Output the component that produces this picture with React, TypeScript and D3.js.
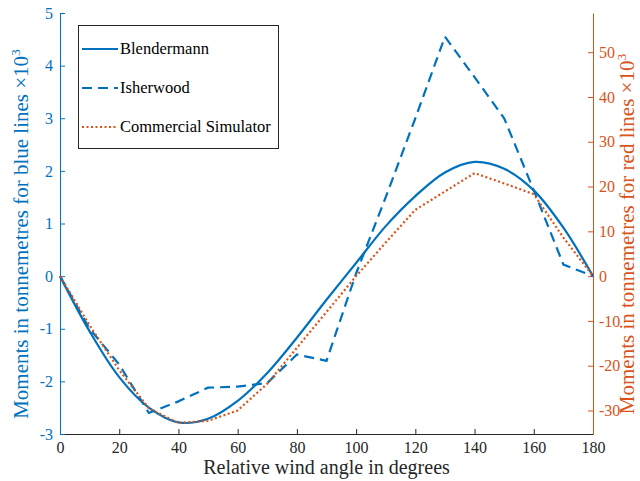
import React, { useEffect, useRef } from "react";
import * as d3 from "d3";

// wind angle in degrees
const angles = [0, 10, 20, 30, 40, 50, 60, 70, 80, 90, 100, 110, 120, 130, 140, 150, 160, 170, 180];

// left axis (x10^3 tonne-metres)
const blendermann = [0, -1.05, -1.92, -2.5, -2.78, -2.71, -2.37, -1.84, -1.17, -0.45, 0.25, 0.95, 1.52, 1.97, 2.17, 2.04, 1.63, 0.92, 0];
const isherwood = [0, -1.0, -1.68, -2.6, -2.38, -2.12, -2.1, -2.03, -1.49, -1.61, 0.05, 1.5, 3.0, 4.55, 3.78, 3.0, 1.63, 0.22, 0];

// right axis (x10^3 tonne-metres)
const commercial = [0, -11, -21, -29.5, -32.8, -32.3, -30, -24, -16, -8, 0, 7.5, 14.8, 18.9, 23, 20.7, 18.3, 8.6, 0];

const xTicks = [0, 20, 40, 60, 80, 100, 120, 140, 160, 180];
const leftTicks = [-3, -2, -1, 0, 1, 2, 3, 4, 5];
const rightTicks = [-30, -20, -10, 0, 10, 20, 30, 40, 50];

const legendNames = ["Blendermann", "Isherwood", "Commercial Simulator"];

const BLUE = "#0072BD";
const RED = "#D95319";
const DARK = "#262626";
const FONT = "'Liberation Serif', 'Times New Roman', serif";

export default function App() {
  const ref = useRef<SVGSVGElement | null>(null);

  useEffect(() => {
    const svg = d3.select(ref.current);
    svg.selectAll("*").remove();

    const left = 60, right = 593, top = 13, bottom = 434;
    const fmt = (d: d3.NumberValue) => String(d);

    // scales
    const xScale = d3.scaleLinear().domain([0, 180]).range([left, right]);
    const yLeft = d3.scaleLinear().domain([-3, 5]).range([bottom, top]);
    const yRight = d3.scaleLinear().domain([-35.25, 58.75]).range([bottom, top]);

    // bottom axis
    const xAxis = d3.axisBottom(xScale).tickValues(xTicks).tickFormat(fmt).tickSizeInner(-5).tickSizeOuter(0).tickPadding(8);
    const gx = svg.append("g").attr("transform", `translate(0,${bottom})`).call(xAxis);
    gx.select(".domain").attr("stroke", DARK);
    gx.selectAll(".tick line").attr("stroke", DARK);
    gx.selectAll("text").attr("fill", DARK).attr("font-family", FONT).attr("font-size", 16);

    // left axis
    const yAxisL = d3.axisLeft(yLeft).tickValues(leftTicks).tickFormat(fmt).tickSizeInner(-5).tickSizeOuter(0).tickPadding(7);
    const gl = svg.append("g").attr("transform", `translate(${left},0)`).call(yAxisL);
    gl.select(".domain").attr("stroke", BLUE);
    gl.selectAll(".tick line").attr("stroke", BLUE);
    gl.selectAll("text").attr("fill", BLUE).attr("font-family", FONT).attr("font-size", 16);

    // right axis
    const yAxisR = d3.axisRight(yRight).tickValues(rightTicks).tickFormat(fmt).tickSizeInner(-5).tickSizeOuter(0).tickPadding(6);
    const gr = svg.append("g").attr("transform", `translate(${right},0)`).call(yAxisR);
    gr.select(".domain").attr("stroke", RED);
    gr.selectAll(".tick line").attr("stroke", RED);
    gr.selectAll("text").attr("fill", RED).attr("font-family", FONT).attr("font-size", 16);

    // lines
    const lineLeft = (vals: number[], curve: d3.CurveFactory) =>
      d3.line<number>().x((_, i) => xScale(angles[i])).y((d) => yLeft(d)).curve(curve)(vals);
    const lineRight = d3.line<number>().x((_, i) => xScale(angles[i])).y((d) => yRight(d));

    svg.append("path")
      .attr("d", lineLeft(blendermann, d3.curveCatmullRom.alpha(0.5)))
      .attr("fill", "none").attr("stroke", BLUE).attr("stroke-width", 2.2);

    svg.append("path")
      .attr("d", lineLeft(isherwood, d3.curveLinear))
      .attr("fill", "none").attr("stroke", BLUE).attr("stroke-width", 2.2)
      .attr("stroke-dasharray", "10,6");

    svg.append("path")
      .attr("d", lineRight(commercial))
      .attr("fill", "none").attr("stroke", RED).attr("stroke-width", 2.2)
      .attr("stroke-dasharray", "2,2.5");

    // axis labels
    svg.append("text")
      .attr("x", (left + right) / 2).attr("y", 474)
      .attr("text-anchor", "middle")
      .attr("font-family", FONT).attr("font-size", 20).attr("fill", DARK)
      .text("Relative wind angle in degrees");

    const yl = svg.append("text")
      .attr("transform", `translate(28,234) rotate(-90)`)
      .attr("text-anchor", "middle")
      .attr("font-family", FONT).attr("font-size", 21).attr("fill", BLUE);
    yl.append("tspan").text("Moments in tonnemetres for blue lines \u00d710");
    yl.append("tspan").attr("font-size", 13.5).attr("dy", -8).text("3");

    const yr = svg.append("text")
      .attr("transform", `translate(634,234) rotate(-90)`)
      .attr("text-anchor", "middle")
      .attr("font-family", FONT).attr("font-size", 21).attr("fill", RED);
    yr.append("tspan").text("Moments in tonnemetres for red lines \u00d710");
    yr.append("tspan").attr("font-size", 13.5).attr("dy", -8).text("3");

    // legend
    const lg = svg.append("g");
    lg.append("rect")
      .attr("x", 78.5).attr("y", 25.5).attr("width", 200).attr("height", 123)
      .attr("fill", "white").attr("stroke", DARK).attr("stroke-width", 1);
    const styles = [
      { color: BLUE, dash: null },
      { color: BLUE, dash: "10,6" },
      { color: RED, dash: "2,2.5" },
    ];
    legendNames.forEach((name, i) => {
      const y = 49 + i * 39;
      const l = lg.append("line")
        .attr("x1", 82).attr("x2", 118).attr("y1", y).attr("y2", y)
        .attr("stroke", styles[i].color).attr("stroke-width", 2.2);
      if (styles[i].dash) l.attr("stroke-dasharray", styles[i].dash);
      lg.append("text")
        .attr("x", 120).attr("y", y + 5)
        .attr("font-family", FONT).attr("font-size", 16.5).attr("fill", "#000")
        .text(name);
    });
  }, []);

  return (
    <svg ref={ref} width={640} height={481} style={{ position: "absolute", left: 0, top: 0, background: "white" }} />
  );
}
